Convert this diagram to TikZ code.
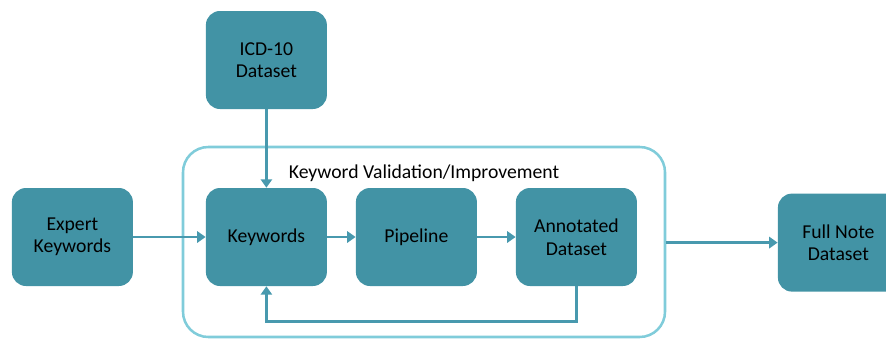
\documentclass[tikz,border=0pt]{standalone}
\usepackage{fontspec}
\setmainfont{Carlito}
\definecolor{boxteal}{RGB}{66, 147, 165}
\definecolor{arrteal}{RGB}{72, 153, 174}
\definecolor{loopcyan}{RGB}{128, 204, 218}
\usetikzlibrary{arrows.meta, positioning, calc}

\begin{document}
\begin{tikzpicture}[
  stagebox/.style={fill=boxteal, rounded corners=10pt, minimum width=3.025cm, minimum height=2.45cm, align=center, font=\fontsize{14}{16}\selectfont, inner sep=2pt},
  loopbox/.style={draw=loopcyan, line width=1.8pt, rounded corners=18pt, minimum width=12.05cm, minimum height=4.75cm},
  arr/.style={draw=arrteal, line width=1.8pt, -{Triangle[width=8pt, length=6pt]}}
]
  \useasboundingbox (0, 0) rectangle (22.15, 8.475);

  \node[loopbox] (loop) at (10.6, 2.425) {};
  \node[font=\fontsize{14}{16}\selectfont] (looplabel) at (10.6, 4.15) {Keyword Validation/Improvement};

  \node[stagebox] (icd) at (6.66, 6.975) {ICD-10\\Dataset};
  \node[stagebox] (expert) at (1.81, 2.55) {Expert\\Keywords};
  \node[stagebox] (kw) at (6.66, 2.55) {Keywords};
  \node[stagebox] (pipe) at (10.41, 2.55) {Pipeline};
  \node[stagebox] (annot) at (14.41, 2.55) {Annotated\\Dataset};
  \node[stagebox] (full) at (20.96, 2.41) {Full Note\\Dataset};

  \draw[arr] (icd) -- (kw);
  \draw[arr] (expert) -- (kw);
  \draw[arr] (kw) -- (pipe);
  \draw[arr] (pipe) -- (annot);
  \draw[arr] (annot.south) -- ++(0, -0.875) -| (kw.south);
  \draw[arr] (loop.east |- full.west) -- (full.west);
\end{tikzpicture}
\end{document}
